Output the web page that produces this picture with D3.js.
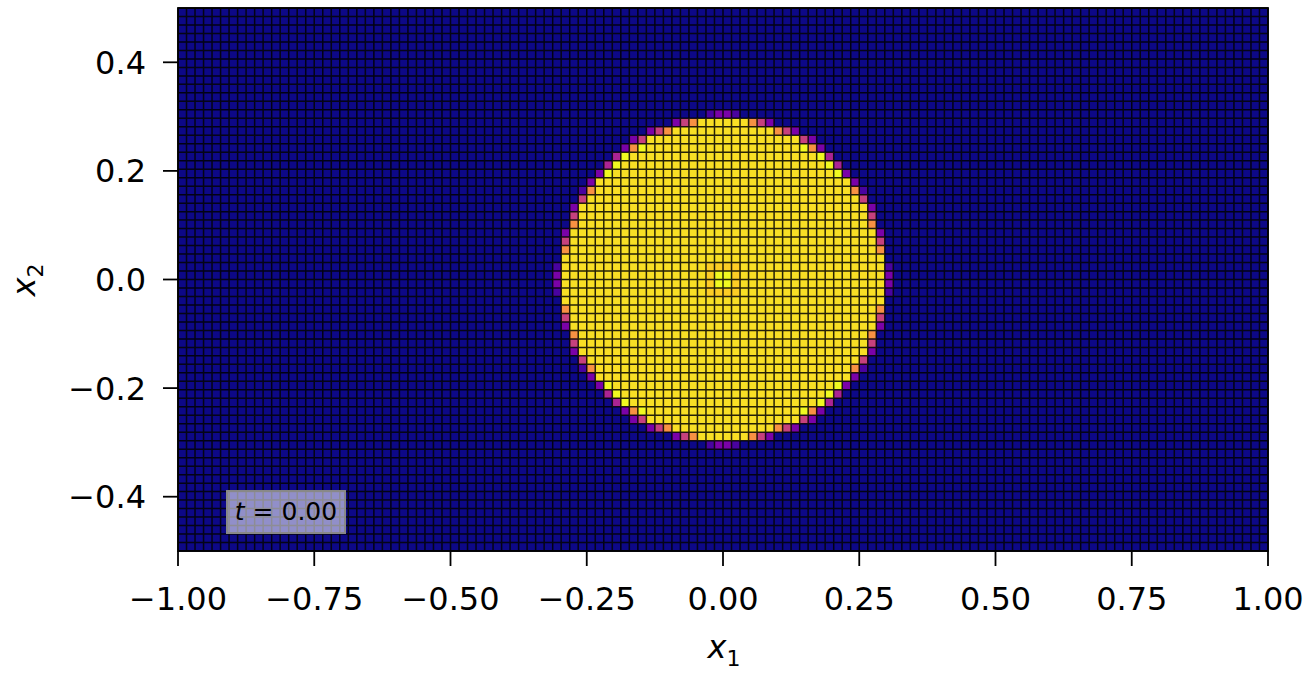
<!DOCTYPE html>
<html>
<head>
<meta charset="utf-8">
<script src="https://cdn.jsdelivr.net/npm/d3@7"></script>
<style>
  body { margin: 0; background: #fff; }
  text { font-family: "DejaVu Sans", sans-serif; fill: #000; }
</style>
</head>
<body>
<div id="chart"></div>
<script>
// grid of the mesh
const nCols = 128;
const nRows = 64;
const xDomain = [-1, 1];
const yDomain = [-0.5, 0.5];

const xTicks = [-1, -0.75, -0.5, -0.25, 0, 0.25, 0.5, 0.75, 1];
const yTicks = [-0.4, -0.2, 0, 0.2, 0.4];

// colour level read from each cell
const levelValue = { "0": 0, "1": 0.12, "2": 0.24, "3": 0.38, "4": 0.48, "6": 0.74, "7": 0.895, "9": 0.94, "A": 1.0 };

// rows 12..51, columns 44..83 (everything else is 0)
const firstRow = 12;
const firstCol = 44;
const blobRows = [
    "0000000000 0000000012 2100000000 0000000000",
    "0000000000 0000246999 9996420000 0000000000",
    "0000000000 0246999999 9999996420 0000000000",
    "0000000002 4999999999 9999999994 2000000000",
    "0000000026 A999999999 999999999A 6200000000",
    "00000003A9 9999999999 9999999999 9A30000000",
    "0000003A99 9999999999 9999999999 99A3000000",
    "000002A999 9999999999 9999999999 999A200000",
    "0000299999 9999999999 9999999999 9999920000",
    "0001699999 9999999999 9999999999 9999961000",
    "0004999999 9999999999 9999999999 9999994000",
    "0029999999 9999999999 9999999999 9999999200",
    "0049999999 9999999999 9999999999 9999999400",
    "0069999999 9999999999 9999999999 9999999600",
    "0299999999 9999999999 9999999999 9999999920",
    "0499999999 9999999999 9999999999 9999999940",
    "0699999999 9999999999 9999999999 9999999960",
    "0999999999 9999999999 9999999999 9999999990",
    "1999999999 9999999977 7799999999 9999999991",
    "2999999999 999999997A A799999999 9999999992",
    "2999999999 999999997A A799999999 9999999992",
    "1999999999 9999999977 7799999999 9999999991",
    "0999999999 9999999999 9999999999 9999999990",
    "0699999999 9999999999 9999999999 9999999960",
    "0499999999 9999999999 9999999999 9999999940",
    "0299999999 9999999999 9999999999 9999999920",
    "0069999999 9999999999 9999999999 9999999600",
    "0049999999 9999999999 9999999999 9999999400",
    "0029999999 9999999999 9999999999 9999999200",
    "0004999999 9999999999 9999999999 9999994000",
    "0001699999 9999999999 9999999999 9999961000",
    "0000299999 9999999999 9999999999 9999920000",
    "000002A999 9999999999 9999999999 999A200000",
    "0000003A99 9999999999 9999999999 99A3000000",
    "00000003A9 9999999999 9999999999 9A30000000",
    "0000000026 A999999999 999999999A 6200000000",
    "0000000002 4999999999 9999999994 2000000000",
    "0000000000 0246999999 9999996420 0000000000",
    "0000000000 0000246999 9996420000 0000000000",
    "0000000000 0000000012 2100000000 0000000000"
];

const timeLabel = "0.00";

function drawMesh(containerId) {
    var width = 1314;
    var height = 673;
    var plotLeft = 178, plotRight = 1268, plotTop = 8, plotBottom = 551;

    var svg = d3.select(`#${containerId}`).append("svg")
        .attr("width", width)
        .attr("height", height);

    const x = d3.scaleLinear().domain(xDomain).range([plotLeft, plotRight]);
    const y = d3.scaleLinear().domain(yDomain).range([plotBottom, plotTop]);
    const colBand = d3.scaleBand().domain(d3.range(nCols)).range([plotLeft, plotRight]);
    const rowBand = d3.scaleBand().domain(d3.range(nRows)).range([plotTop, plotBottom]);
    const color = d3.scaleSequential(d3.interpolatePlasma).domain([0, 1]);

    // build the cell table
    const cells = [];
    for (let r = 0; r < nRows; r++) {
        for (let c = 0; c < nCols; c++) {
            let v = 0;
            const br = r - firstRow, bc = c - firstCol;
            if (br >= 0 && br < blobRows.length) {
                const row = blobRows[br].replace(/ /g, "");
                if (bc >= 0 && bc < row.length) v = levelValue[row[bc]];
            }
            cells.push({ r: r, c: c, v: v });
        }
    }

    const mesh = svg.append("g");

    mesh.selectAll("rect")
        .data(cells)
        .enter().append("rect")
        .attr("x", d => colBand(d.c))
        .attr("y", d => rowBand(d.r))
        .attr("width", colBand.bandwidth() + 0.3)
        .attr("height", rowBand.bandwidth() + 0.3)
        .attr("fill", d => color(d.v));

    // cell edges
    const edgePath = d3.path();
    d3.range(nCols + 1).forEach(i => {
        const px = i < nCols ? colBand(i) : plotRight;
        edgePath.moveTo(px, plotTop);
        edgePath.lineTo(px, plotBottom);
    });
    d3.range(nRows + 1).forEach(j => {
        const py = j < nRows ? rowBand(j) : plotBottom;
        edgePath.moveTo(plotLeft, py);
        edgePath.lineTo(plotRight, py);
    });
    mesh.append("path")
        .attr("d", edgePath.toString())
        .attr("fill", "none")
        .attr("stroke", "#000")
        .attr("stroke-opacity", 0.85)
        .attr("stroke-width", 1.5);

    // time box
    const box = svg.append("g");
    box.append("rect")
        .attr("x", 227).attr("y", 491)
        .attr("width", 118).attr("height", 42)
        .attr("fill", "rgba(255,255,255,0.55)")
        .attr("stroke", "#888")
        .attr("stroke-width", 2);
    const tText = box.append("text")
        .attr("x", 286).attr("y", 520)
        .attr("text-anchor", "middle")
        .attr("font-size", 25);
    tText.append("tspan").attr("font-style", "italic").text("t");
    tText.append("tspan").text(" = " + timeLabel);

    // frame
    svg.append("rect")
        .attr("x", plotLeft).attr("y", plotTop)
        .attr("width", plotRight - plotLeft).attr("height", plotBottom - plotTop)
        .attr("fill", "none")
        .attr("stroke", "#000")
        .attr("stroke-width", 1.8);

    // x axis
    const fx = d3.format(".2f");
    const xt = svg.append("g").selectAll("g")
        .data(xTicks)
        .enter().append("g");
    xt.append("line")
        .attr("x1", d => x(d)).attr("x2", d => x(d))
        .attr("y1", plotBottom).attr("y2", plotBottom + 15)
        .attr("stroke", "#000").attr("stroke-width", 1.8);
    xt.append("text")
        .attr("x", d => x(d)).attr("y", 610)
        .attr("text-anchor", "middle")
        .attr("font-size", 32)
        .text(d => fx(d));

    // y axis
    const fy = d3.format(".1f");
    const yt = svg.append("g").selectAll("g")
        .data(yTicks)
        .enter().append("g");
    yt.append("line")
        .attr("x1", plotLeft - 15).attr("x2", plotLeft)
        .attr("y1", d => y(d)).attr("y2", d => y(d))
        .attr("stroke", "#000").attr("stroke-width", 1.8);
    yt.append("text")
        .attr("x", 146).attr("y", d => y(d) + 11.5)
        .attr("text-anchor", "end")
        .attr("font-size", 32)
        .text(d => fy(d));

    // axis labels
    const xl = svg.append("text")
        .attr("x", 724).attr("y", 658)
        .attr("text-anchor", "middle")
        .attr("font-size", 32);
    xl.append("tspan").attr("font-style", "italic").text("x");
    xl.append("tspan").attr("font-size", 22).attr("dy", 8).text("1");

    const yl = svg.append("text")
        .attr("transform", "translate(35,280) rotate(-90)")
        .attr("text-anchor", "middle")
        .attr("font-size", 32);
    yl.append("tspan").attr("font-style", "italic").text("x");
    yl.append("tspan").attr("font-size", 22).attr("dy", 8).text("2");
}

drawMesh("chart");
</script>
</body>
</html>
